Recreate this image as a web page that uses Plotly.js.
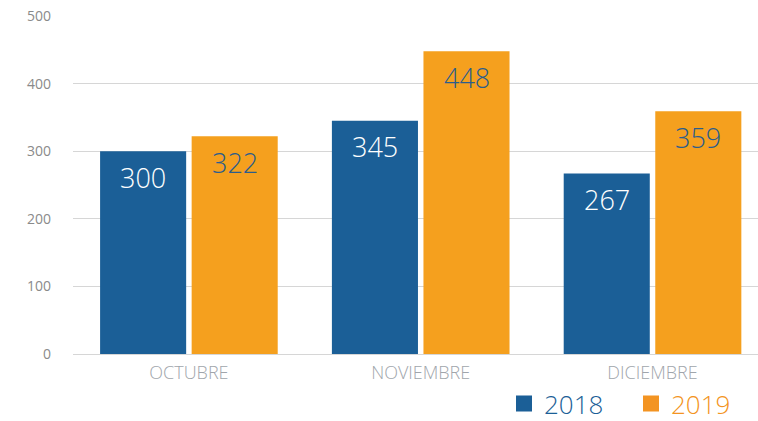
<!DOCTYPE html>
<html><head><meta charset="utf-8">
<script src="https://cdn.plot.ly/plotly-3.0.1.min.js"></script>
<style>html,body{margin:0;padding:0;background:#fff}#c{width:758px;height:421px}</style>
</head><body><div id="c"></div>
<script>
const categories = ['OCTUBRE', 'NOVIEMBRE', 'DICIEMBRE'];
const values2018 = [300, 345, 267];
const values2019 = [322, 448, 359];
const seriesNames = ['2018', '2019'];
const yTicks = [0, 100, 200, 300, 400, 500];

const blue = '#1b5f97';
const orange = '#f5a01e';
const legendOrange = '#f39422';
const labelColors = ['#ffffff', '#2b5d8c'];

const bargap = 0.21;
const xRange = [-0.5, 2.455];
const plotW = 758 - 73;
const catPx = plotW / (xRange[1] - xRange[0]);
const slotPx = (1 - bargap) * catPx / 2;

const traces = [
  {type:'bar', x:categories, y:values2018, name:seriesNames[0], showlegend:false,
   marker:{color:blue, line:{width:0}}, hoverinfo:'none'},
  {type:'bar', x:categories, y:values2019, name:seriesNames[1], showlegend:false,
   marker:{color:orange, line:{width:0}}, hoverinfo:'none'},
  {type:'scatter', mode:'markers', x:[null], y:[null], name:'<span style="color:'+blue+'">'+seriesNames[0]+'</span>',
   marker:{symbol:'square', size:20, color:blue}},
  {type:'scatter', mode:'markers', x:[null], y:[null], name:'<span style="color:'+legendOrange+'">'+seriesNames[1]+'</span>',
   marker:{symbol:'square', size:20, color:legendOrange}}
];

const annotations = [];
[values2018, values2019].forEach((vals, s) => {
  vals.forEach((v, i) => {
    annotations.push({xref:'x', yref:'y', x:categories[i], y:v, text:String(v), showarrow:false,
      xanchor:'center', yanchor:'middle', xshift:(s === 0 ? -1 : 1) * slotPx / 2, yshift:-26,
      font:{family:'Open Sans', size:27, weight:300, color:labelColors[s]}});
  });
});

const layout = {
  width:758, height:421,
  margin:{l:73, r:0, t:16, b:67, autoexpand:false},
  paper_bgcolor:'#fff', plot_bgcolor:'#fff',
  barmode:'group', bargap:bargap, bargroupgap:0.06,
  font:{family:'Open Sans', color:'#888'},
  xaxis:{type:'category', range:xRange, showgrid:false, zeroline:false, showline:false, ticks:'', automargin:false,
    tickfont:{family:'Open Sans', size:18, weight:300, color:'#a0a5ab'}, ticklabelstandoff:6},
  yaxis:{range:[0,500], tickvals:yTicks, showgrid:true, gridcolor:'#d6d6d6', gridwidth:1, automargin:false,
    zeroline:true, zerolinecolor:'#d6d6d6', showline:false, ticks:'',
    tickfont:{family:'Open Sans', size:14, color:'#8a8a8a'}, ticklabelstandoff:21},
  annotations: annotations,
  showlegend:true,
  legend:{orientation:'h', x:1, xanchor:'right', y:-0.147, yanchor:'middle',
    font:{family:'Open Sans', size:26, weight:300}, itemwidth:30, entrywidth:82, entrywidthmode:'pixels',
    tracegroupgap:0, bgcolor:'rgba(0,0,0,0)'}
};

Plotly.newPlot('c', traces, layout, {staticPlot:true});
</script></body></html>
